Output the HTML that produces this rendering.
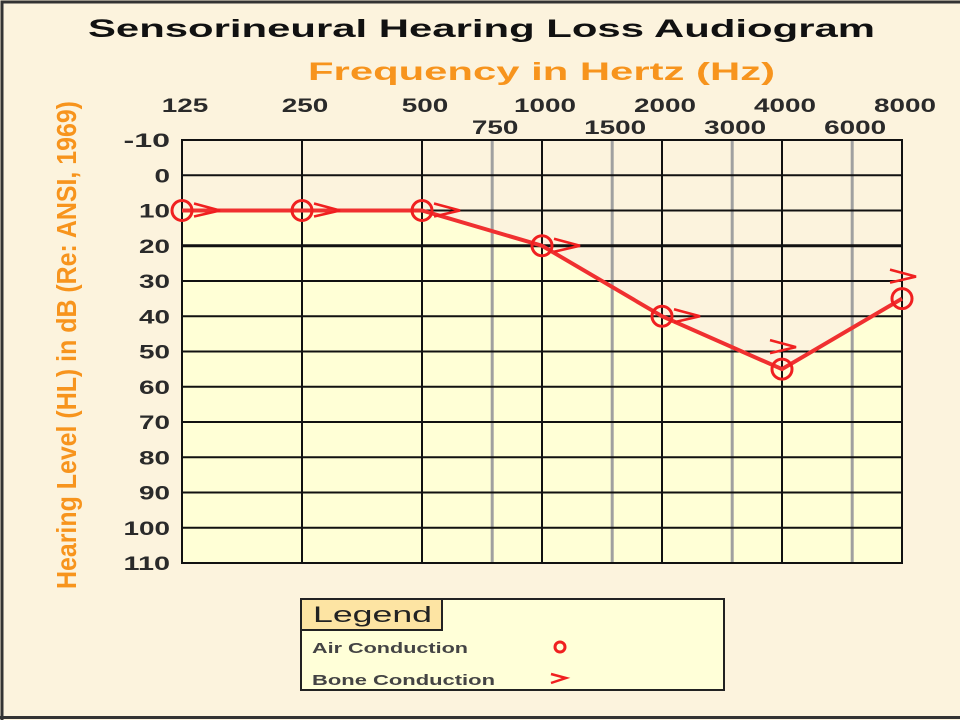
<!DOCTYPE html>
<html><head><meta charset="utf-8"><style>
body{margin:0;background:#fcf3dd;}
svg{display:block;font-family:"Liberation Sans",sans-serif;}
</style></head><body>
<svg id="chart" width="960" height="720" viewBox="0 0 960 720">
<rect x="0" y="0" width="960" height="720" fill="#fcf3dd"/>
<path d="M2 720 V2 H960 M0 717.5 H960" stroke="#333" stroke-width="3" fill="none"/>
<text x="88" y="37" font-size="25" font-weight="bold" fill="#111" textLength="787" lengthAdjust="spacingAndGlyphs">Sensorineural Hearing Loss Audiogram</text>
<text x="308" y="80" font-size="25" font-weight="bold" fill="#f7941d" textLength="467" lengthAdjust="spacingAndGlyphs">Frequency in Hertz (Hz)</text>
<text transform="translate(76,345) rotate(-90)" text-anchor="middle" font-size="28" font-weight="bold" fill="#f7941d" textLength="488" lengthAdjust="spacingAndGlyphs">Hearing Level (HL) in dB (Re: ANSI, 1969)</text>
<g id="plot"></g>
<g>
<rect x="301" y="599" width="423" height="91" fill="#ffffd8" stroke="#222" stroke-width="2"/>
<rect x="301" y="599" width="141" height="31" fill="#fde4a3" stroke="#222" stroke-width="2"/>
<text x="313" y="622" font-size="22" fill="#222" textLength="119" lengthAdjust="spacingAndGlyphs">Legend</text>
<text x="312" y="653" font-size="15" font-weight="bold" fill="#444" textLength="156" lengthAdjust="spacingAndGlyphs">Air Conduction</text>
<circle cx="560" cy="647" r="5" fill="none" stroke="#f02020" stroke-width="3"/>
<text x="312" y="685" font-size="15" font-weight="bold" fill="#444" textLength="183" lengthAdjust="spacingAndGlyphs">Bone Conduction</text>
<path d="M551 674 L566 678 L551 683" fill="none" stroke="#f02020" stroke-width="2.5"/>
</g>
</svg>
<script>
const freqs=[125,250,500,1000,2000,4000,8000];
const halfFreqs=[750,1500,3000,6000];
const dbTicks=[-10,0,10,20,30,40,50,60,70,80,90,100,110];
const airValues=[10,10,10,20,40,55,35];
const boneValues=[10,10,10,20,40,55,35];
const NS="http://www.w3.org/2000/svg";
const X0=182,X1=902,Y0=140,Y1=563;
function xs(f){return X0+(Math.log2(f/125))*(X1-X0)/6;}
function ys(d){return Y0+(d+10)*(Y1-Y0)/120;}
const g=document.getElementById('plot');
function mk(t,a,p){const e=document.createElementNS(NS,t);for(const k in a)e.setAttribute(k,a[k]);(p||g).appendChild(e);return e;}
const bg=mk('rect',{x:X0,y:Y0,width:X1-X0,height:Y1-Y0,fill:'#fcf3dd'});


let pts=airValues.map((v,i)=>xs(freqs[i])+','+ys(v)).join(' ');
const fill=mk('polygon',{points:pts+' '+X1+','+Y1+' '+X0+','+Y1,fill:'#ffffd6'});


function lbl(x,y,s,anchor){
 const n=String(s).length;
 const w=n*15.5;
 const x0=anchor==='end'?x-w:x-w/2;
 return mk('text',{x:x0,y:y,'font-size':19,'font-weight':'bold',fill:'#2a2a2a',textLength:w,lengthAdjust:'spacingAndGlyphs'});
}
halfFreqs.forEach(f=>{
 const l=mk('line',{x1:xs(f),x2:xs(f),y1:Y0,y2:Y1,stroke:'#a0a0a0','stroke-width':3});
 
 
 const t=lbl(xs(f)+3,134,f,'middle');t.textContent=f;
 
 
});
dbTicks.forEach(d=>{
 const l=mk('line',{x1:X0-1,x2:X1+1,y1:ys(d),y2:ys(d),stroke:'#111','stroke-width':d===20?3:2});
 
 
 const t=lbl(170,ys(d)+7,d,'end');t.textContent=d;
 
 
});
freqs.forEach(f=>{
 const l=mk('line',{x1:xs(f),x2:xs(f),y1:Y0,y2:Y1,stroke:'#111','stroke-width':2});
 
 
 const t=lbl(xs(f)+3,112,f,'middle');t.textContent=f;
 
 
});
const line=mk('polyline',{points:pts,fill:'none',stroke:'#f03030','stroke-width':4});


airValues.forEach((v,i)=>{
 const c=mk('circle',{cx:xs(freqs[i]),cy:ys(v),r:10,fill:'none',stroke:'#f02020','stroke-width':3});
 
 
});
boneValues.forEach((v,i)=>{
 const above=i>=5;
 const x=xs(freqs[i])+(above?-12:12), y=ys(v)+(above?-22:0);
 const p=mk('path',{d:`M${x} ${y-7} L${x+26} ${y} L${x} ${y+6}`,fill:'none',stroke:'#f02020','stroke-width':2.5});
 
 
});
</script>
</body></html>
